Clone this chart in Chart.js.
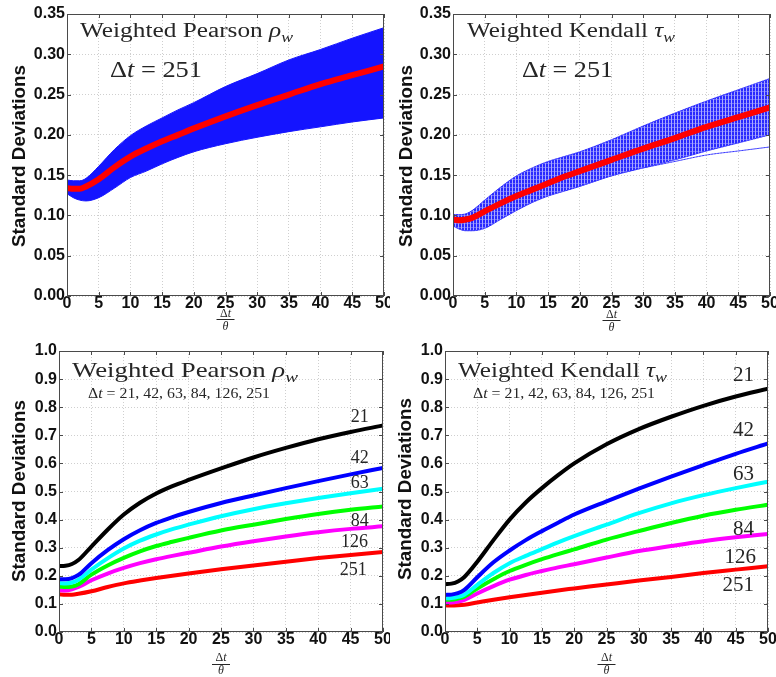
<!DOCTYPE html>
<html><head><meta charset="utf-8">
<script src="https://cdn.jsdelivr.net/npm/chart.js@4"></script>
<style>
html,body{margin:0;padding:0;background:#fff;}
#wrap{position:relative;width:776px;height:677px;overflow:hidden;background:#fff;}
.p{position:absolute;}
canvas{display:block;}
</style></head><body>
<div id="wrap">
<div class="p" style="left:0;top:0"><canvas id="c1" width="390" height="340"></canvas></div>
<div class="p" style="left:390px;top:0"><canvas id="c2" width="386" height="340"></canvas></div>
<div class="p" style="left:0;top:340px"><canvas id="c3" width="390" height="337"></canvas></div>
<div class="p" style="left:390px;top:340px"><canvas id="c4" width="386" height="337"></canvas></div>
</div>
<script>
// ---------- DATA ----------
const xs = [0, 1, 2, 3, 5, 7.5, 10, 12.5, 15, 17.5, 20, 25, 30, 35, 40, 45, 50];
const xTicks = [0, 5, 10, 15, 20, 25, 30, 35, 40, 45, 50];
const yTicksTop = [0, 0.05, 0.10, 0.15, 0.20, 0.25, 0.30, 0.35];
const yTicksBottom = [0, 0.1, 0.2, 0.3, 0.4, 0.5, 0.6, 0.7, 0.8, 0.9, 1.0];
const lagLabels = ['21', '42', '63', '84', '126', '251'];

// Weighted Pearson, Δt = 251 : mean and envelope of simulated curves
const pearson251   = [0.134, 0.133, 0.133, 0.136, 0.145, 0.160, 0.173, 0.183, 0.192, 0.200, 0.208, 0.223, 0.237, 0.250, 0.263, 0.274, 0.285];
const pearsonUpper = [0.144, 0.143, 0.143, 0.146, 0.161, 0.182, 0.199, 0.211, 0.221, 0.231, 0.240, 0.260, 0.276, 0.293, 0.306, 0.320, 0.333];
const pearsonLower = [0.127, 0.122, 0.119, 0.118, 0.122, 0.134, 0.147, 0.155, 0.164, 0.172, 0.179, 0.189, 0.197, 0.204, 0.210, 0.216, 0.221];

// Weighted Kendall, Δt = 251
const kendall251   = [0.095, 0.094, 0.095, 0.097, 0.105, 0.115, 0.124, 0.132, 0.140, 0.148, 0.155, 0.169, 0.183, 0.196, 0.210, 0.222, 0.234];
const kendallUpper = [0.101, 0.101, 0.102, 0.106, 0.119, 0.135, 0.149, 0.159, 0.167, 0.173, 0.179, 0.194, 0.211, 0.227, 0.242, 0.256, 0.270];
const kendallLower = [0.087, 0.083, 0.081, 0.081, 0.084, 0.095, 0.106, 0.116, 0.124, 0.130, 0.136, 0.149, 0.159, 0.169, 0.180, 0.190, 0.200];
const kendallOutlier = [null, null, null, null, null, null, null, null, null, null, null, null, 0.159, 0.167, 0.175, 0.180, 0.185];

// Weighted Pearson, Δt = 21..126
const pearson21  = [0.235, 0.236, 0.242, 0.256, 0.304, 0.364, 0.418, 0.460, 0.493, 0.519, 0.541, 0.582, 0.621, 0.655, 0.686, 0.712, 0.735];
const pearson42  = [0.188, 0.188, 0.192, 0.203, 0.245, 0.291, 0.330, 0.362, 0.388, 0.409, 0.427, 0.459, 0.486, 0.512, 0.537, 0.561, 0.584];
const pearson63  = [0.174, 0.173, 0.176, 0.186, 0.222, 0.262, 0.297, 0.325, 0.347, 0.366, 0.382, 0.412, 0.437, 0.458, 0.477, 0.494, 0.510];
const pearson84  = [0.161, 0.160, 0.162, 0.170, 0.204, 0.237, 0.264, 0.287, 0.306, 0.321, 0.335, 0.361, 0.382, 0.402, 0.420, 0.435, 0.447];
const pearson126 = [0.149, 0.148, 0.152, 0.160, 0.184, 0.208, 0.228, 0.245, 0.259, 0.271, 0.282, 0.304, 0.323, 0.340, 0.355, 0.367, 0.376];

// Weighted Kendall, Δt = 21..126
const kendall21  = [0.170, 0.172, 0.180, 0.196, 0.250, 0.327, 0.400, 0.461, 0.512, 0.558, 0.600, 0.668, 0.722, 0.766, 0.805, 0.838, 0.866];
const kendall42  = [0.132, 0.133, 0.138, 0.150, 0.195, 0.248, 0.290, 0.327, 0.359, 0.389, 0.418, 0.465, 0.510, 0.553, 0.594, 0.634, 0.671];
const kendall63  = [0.120, 0.121, 0.125, 0.133, 0.168, 0.210, 0.245, 0.271, 0.295, 0.319, 0.341, 0.382, 0.423, 0.458, 0.487, 0.512, 0.535];
const kendall84  = [0.115, 0.115, 0.119, 0.126, 0.155, 0.188, 0.217, 0.239, 0.259, 0.277, 0.294, 0.329, 0.359, 0.388, 0.414, 0.435, 0.453];
const kendall126 = [0.105, 0.105, 0.108, 0.114, 0.137, 0.163, 0.186, 0.203, 0.217, 0.230, 0.241, 0.265, 0.288, 0.306, 0.323, 0.337, 0.349];

// label anchor positions (data coordinates) for the curve labels
const labelPosPearson = [[46.4, 0.765], [46.4, 0.618], [46.4, 0.529], [46.4, 0.394], [45.6, 0.318], [45.4, 0.218]];
const labelPosKendall = [[46.2, 0.912], [46.2, 0.716], [46.2, 0.559], [46.2, 0.365], [45.7, 0.265], [45.4, 0.165]];

// ---------- RENDER ----------
Chart.defaults.font.family = '"Liberation Sans", Arial, sans-serif';
const SERIF = '"Liberation Serif", "Times New Roman", serif';
const lineColors = ['#000000', '#0000ff', '#00ffff', '#00ff00', '#ff00ff', '#ff0000'];

function series(vals) { return xs.map((x, i) => ({ x: x, y: vals[i] })); }

function drawParts(ctx, parts, x, y, w) {
  let total = 0;
  parts.forEach(p => { ctx.font = p.f; p._w = ctx.measureText(p.t).width; total += p._w; });
  const sx = w ? w / total : 1;
  ctx.save();
  ctx.translate(x, y); ctx.scale(sx, 1);
  ctx.textAlign = 'left'; ctx.textBaseline = 'alphabetic'; ctx.fillStyle = '#262626';
  let cx = 0;
  parts.forEach(p => { ctx.font = p.f; ctx.fillText(p.t, cx, p.dy || 0); cx += p._w; });
  ctx.restore();
}

function titleParts(name, greek, size) {
  return [
    { t: name + ' ', f: size + 'px ' + SERIF },
    { t: greek, f: 'italic ' + size + 'px ' + SERIF },
    { t: 'w', f: 'italic ' + Math.round(size * 0.7) + 'px ' + SERIF, dy: Math.round(size * 0.25) }
  ];
}
function dtParts(rest, size) {
  return [
    { t: 'Δ', f: size + 'px ' + SERIF },
    { t: 't', f: 'italic ' + size + 'px ' + SERIF },
    { t: rest, f: size + 'px ' + SERIF }
  ];
}

function makePlugin(spec) {
  return {
    id: 'frame_' + spec.id,
    afterDraw(chart) {
      const ctx = chart.ctx, a = chart.chartArea, sx = chart.scales.x, sy = chart.scales.y;
      ctx.save();
      // box
      ctx.strokeStyle = '#4a4a4a'; ctx.lineWidth = 1;
      ctx.strokeRect(a.left + 0.5, a.top + 0.5, a.right - a.left - 1, a.bottom - a.top - 1);
      // inward ticks
      ctx.beginPath();
      sx.ticks.forEach(t => {
        const px = Math.round(sx.getPixelForValue(t.value)) + 0.5;
        ctx.moveTo(px, a.bottom); ctx.lineTo(px, a.bottom - 4);
        ctx.moveTo(px, a.top); ctx.lineTo(px, a.top + 4);
      });
      sy.ticks.forEach(t => {
        const py = Math.round(sy.getPixelForValue(t.value)) + 0.5;
        ctx.moveTo(a.left, py); ctx.lineTo(a.left + 4, py);
        ctx.moveTo(a.right, py); ctx.lineTo(a.right - 4, py);
      });
      ctx.stroke();
      // texts (page coords -> local)
      spec.texts.forEach(tx => drawParts(ctx, tx.parts, tx.x - spec.ox, tx.y - spec.oy, tx.w));
      // curve labels
      if (spec.curveLabels) {
        ctx.fillStyle = '#262626';
        ctx.textAlign = 'center'; ctx.textBaseline = 'middle';
        ctx.font = spec.curveLabelSize + 'px ' + SERIF;
        spec.curveLabels.forEach((lab, i) => {
          const p = spec.curvePos[i];
          ctx.fillText(lab, sx.getPixelForValue(p[0]), sy.getPixelForValue(p[1]));
        });
      }
      // y axis title
      ctx.save();
      ctx.translate(spec.yTitle[0] - spec.ox, spec.yTitle[1] - spec.oy);
      ctx.rotate(-Math.PI / 2);
      ctx.font = 'bold 18px "Liberation Sans", Arial, sans-serif';
      const tw = ctx.measureText('Standard Deviations').width;
      ctx.scale(182 / tw, 1);
      ctx.fillStyle = '#111'; ctx.textAlign = 'center'; ctx.textBaseline = 'middle';
      ctx.fillText('Standard Deviations', 0, 0);
      ctx.restore();
      // x axis title (fraction Δt / θ)
      const cxp = (a.left + a.right) / 2;
      const f = spec.frac.map(v => v - spec.oy);
      ctx.fillStyle = '#262626';
      ctx.font = '12px ' + SERIF;
      const wD = ctx.measureText('Δ').width;
      ctx.font = 'italic 12px ' + SERIF;
      const wt = ctx.measureText('t').width;
      const wnum = wD + wt;
      ctx.textAlign = 'left'; ctx.textBaseline = 'alphabetic';
      ctx.font = '12px ' + SERIF; ctx.fillText('Δ', cxp - wnum / 2, f[0]);
      ctx.font = 'italic 12px ' + SERIF; ctx.fillText('t', cxp - wnum / 2 + wD, f[0]);
      ctx.strokeStyle = '#262626'; ctx.lineWidth = 1;
      ctx.beginPath(); ctx.moveTo(cxp - 9, f[1] + 0.5); ctx.lineTo(cxp + 9, f[1] + 0.5); ctx.stroke();
      ctx.textAlign = 'center';
      ctx.font = 'italic 12px ' + SERIF; ctx.fillText('θ', cxp, f[2]);
      ctx.restore();
    }
  };
}

function makeChart(spec) {
  const canvas = document.getElementById(spec.id);
  return new Chart(canvas, {
    type: 'line',
    data: { datasets: spec.datasets },
    options: {
      responsive: false, animation: false, events: [],
      layout: { padding: { left: 0, top: spec.padT, right: spec.padR, bottom: 0 } },
      elements: { point: { radius: 0 }, line: { cubicInterpolationMode: 'monotone', borderCapStyle: 'round', borderJoinStyle: 'round' } },
      plugins: { legend: { display: false }, tooltip: { enabled: false }, title: { display: false } },
      scales: {
        x: {
          type: 'linear', min: 0, max: 50,
          afterBuildTicks: s => { s.ticks = xTicks.map(v => ({ value: v })); },
          afterFit: s => { s.height = spec.xH; s.paddingLeft = 0; s.paddingRight = 0; },
          ticks: { color: '#111', padding: 0, maxRotation: 0, autoSkip: false,
                   font: { size: 16, weight: 'bold', lineHeight: 1 },
                   callback: v => String(v) },
          grid: { color: '#cfcfcf', lineWidth: 1, drawTicks: false },
          border: { display: false, dash: [1, 2] }
        },
        y: {
          type: 'linear', min: 0, max: spec.yTicks[spec.yTicks.length - 1],
          afterBuildTicks: s => { s.ticks = spec.yTicks.map(v => ({ value: v })); },
          afterFit: s => { s.width = spec.yW; s.paddingTop = 0; s.paddingBottom = 0; },
          ticks: { color: '#111', padding: 2, autoSkip: false,
                   font: { size: 16, weight: 'bold', lineHeight: 1 },
                   callback: v => Number(v).toFixed(spec.decimals) },
          grid: { color: '#cfcfcf', lineWidth: 1, drawTicks: false },
          border: { display: false, dash: [1, 2] }
        }
      }
    },
    plugins: [makePlugin(spec)]
  });
}

// hatched pattern for the Kendall band
const pc = document.createElement('canvas'); pc.width = 3; pc.height = 4;
const pctx = pc.getContext('2d');
pctx.fillStyle = '#2a2aff'; pctx.fillRect(0, 0, 3, 4);
pctx.fillStyle = '#a8a8ff'; pctx.fillRect(2, 0, 1, 4);
pctx.fillStyle = '#6a6aff'; pctx.fillRect(0, 3, 2, 1);
const hatch = document.getElementById('c2').getContext('2d').createPattern(pc, 'repeat');

// Top-left: Weighted Pearson, Δt = 251
makeChart({
  id: 'c1', ox: 0, oy: 0, yW: 67, xH: 44, padT: 14, padR: 6, yTicks: yTicksTop, decimals: 2,
  yTitle: [20, 156], frac: [317, 319, 330],
  texts: [
    { parts: titleParts('Weighted Pearson', 'ρ', 20), x: 80, y: 37, w: 213 },
    { parts: dtParts(' = 251', 23), x: 110, y: 77, w: 92 }
  ],
  datasets: [
    { data: series(pearsonLower), borderColor: '#1414ff', borderWidth: 1, fill: false },
    { data: series(pearsonUpper), borderColor: '#1414ff', borderWidth: 1, fill: '-1', backgroundColor: '#1414ff' },
    { data: series(pearson251), borderColor: '#ff0000', borderWidth: 6, fill: false, order: -1 }
  ]
});

// Top-right: Weighted Kendall, Δt = 251
makeChart({
  id: 'c2', ox: 390, oy: 0, yW: 63, xH: 44, padT: 14, padR: 6, yTicks: yTicksTop, decimals: 2,
  yTitle: [407, 156], frac: [318, 320, 331],
  texts: [
    { parts: titleParts('Weighted Kendall', 'τ', 20), x: 467, y: 37, w: 208 },
    { parts: dtParts(' = 251', 23), x: 522, y: 77, w: 91 }
  ],
  datasets: [
    { data: series(kendallLower), borderColor: '#3030ff', borderWidth: 1, borderDash: [2, 1], fill: false },
    { data: series(kendallUpper), borderColor: '#3030ff', borderWidth: 1, borderDash: [2, 1], fill: '-1', backgroundColor: hatch },
    { data: series(kendallOutlier), borderColor: '#3030ff', borderWidth: 1, borderDash: [2, 1], fill: false },
    { data: series(kendall251), borderColor: '#ff0000', borderWidth: 6, fill: false, order: -1 }
  ]
});

// Bottom-left: Weighted Pearson, all Δt
const pearsonAll = [pearson21, pearson42, pearson63, pearson84, pearson126, pearson251];
makeChart({
  id: 'c3', ox: 0, oy: 340, yW: 59, xH: 45, padT: 11, padR: 7, yTicks: yTicksBottom, decimals: 1,
  yTitle: [20, 491], frac: [661, 664, 674],
  curveLabels: lagLabels, curvePos: labelPosPearson, curveLabelSize: 18,
  texts: [
    { parts: titleParts('Weighted Pearson', 'ρ', 21), x: 72, y: 377, w: 226 },
    { parts: dtParts(' = 21, 42, 63, 84, 126, 251', 14), x: 88, y: 398, w: 182 }
  ],
  datasets: pearsonAll.map((v, i) => ({ data: series(v), borderColor: lineColors[i], borderWidth: 4, fill: false }))
});

// Bottom-right: Weighted Kendall, all Δt
const kendallAll = [kendall21, kendall42, kendall63, kendall84, kendall126, kendall251];
makeChart({
  id: 'c4', ox: 390, oy: 340, yW: 55, xH: 45, padT: 11, padR: 8, yTicks: yTicksBottom, decimals: 1,
  yTitle: [406, 489], frac: [661, 664, 674],
  curveLabels: lagLabels, curvePos: labelPosKendall, curveLabelSize: 21,
  texts: [
    { parts: titleParts('Weighted Kendall', 'τ', 21), x: 458, y: 377, w: 209 },
    { parts: dtParts(' = 21, 42, 63, 84, 126, 251', 14), x: 473, y: 398, w: 182 }
  ],
  datasets: kendallAll.map((v, i) => ({ data: series(v), borderColor: lineColors[i], borderWidth: 4, fill: false }))
});
</script>
</body></html>
